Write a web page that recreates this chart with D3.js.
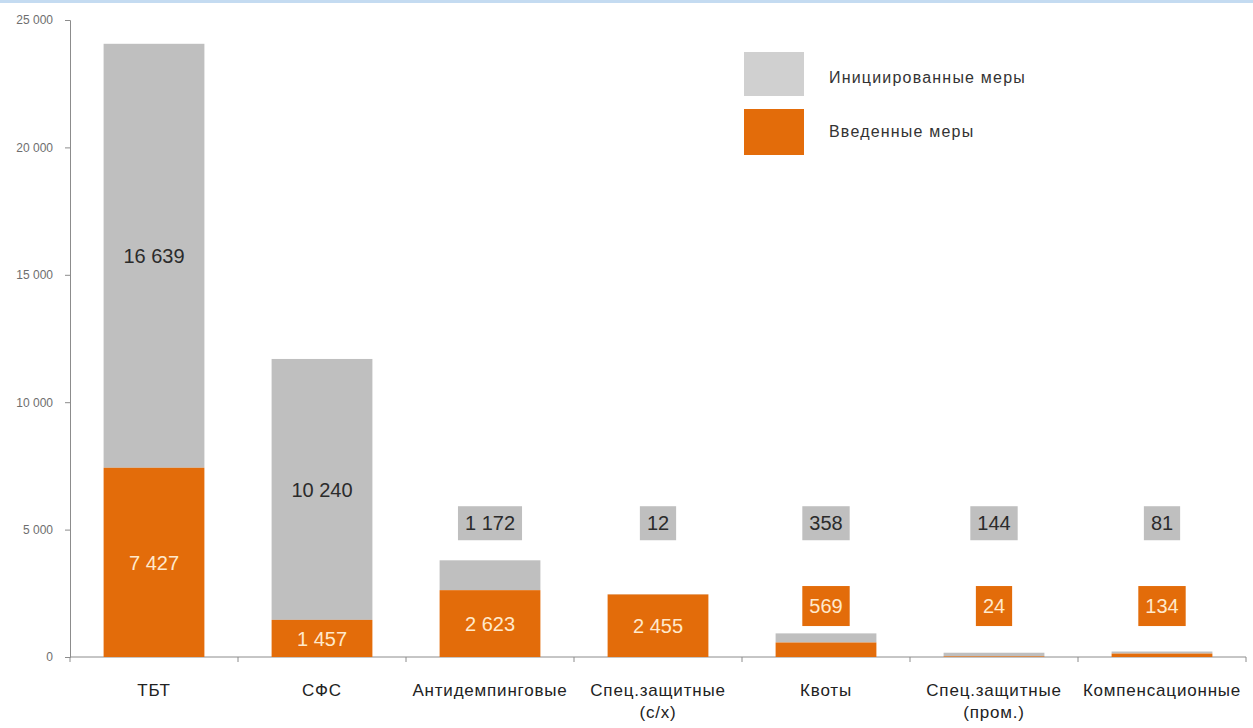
<!DOCTYPE html>
<html>
<head>
<meta charset="utf-8" />
<title>Инициированные и введенные меры</title>
<script src="https://cdn.jsdelivr.net/npm/d3@7"></script>
<style>
  body { margin: 0; background: #fff; }
  svg text { font-family: "Liberation Sans", Arial, sans-serif; }
</style>
</head>
<body>
<script>
// data
var categories = ["ТБТ", "СФС", "Антидемпинговые", "Спец.защитные\n(с/х)", "Квоты", "Спец.защитные\n(пром.)", "Компенсационные"];
var introduced = [7427, 1457, 2623, 2455, 569, 24, 134];   // Введенные меры
var initiated = [16639, 10240, 1172, 12, 358, 144, 81];    // Инициированные меры
var yTicks = [0, 5000, 10000, 15000, 20000, 25000];
var legendLabels = ["Инициированные меры", "Введенные меры"];

var grey = "#bfbfbf", orange = "#e36c0a";

var W = 1253, H = 728;
var margin = {top: 20, right: 7, bottom: 71, left: 70},
    width = W - margin.left - margin.right,
    height = H - margin.top - margin.bottom;

var ru = d3.formatLocale({decimal: ",", thousands: " ", grouping: [3], currency: ["", ""]});
var fmt = ru.format(",");

var svg = d3.select("body").append("svg")
    .attr("width", W)
    .attr("height", H);

// thin blue frame line on top
svg.append("rect").attr("x", 0).attr("y", 0).attr("width", W).attr("height", 3).attr("fill", "#c4dbf1");

var g = svg.append("g")
    .attr("transform", "translate(" + margin.left + "," + margin.top + ")");

var x = d3.scaleBand()
    .domain(categories)
    .range([0, width])
    .paddingInner(0.4)
    .paddingOuter(0.2);

var y = d3.scaleLinear()
    .domain([0, 25000])
    .range([height, 0]);

// y axis
var yAxis = g.append("g")
    .call(d3.axisLeft(y).tickValues(yTicks).tickFormat(fmt).tickSize(5).tickPadding(12));
yAxis.select(".domain").attr("stroke", "#8c8c8c");
yAxis.selectAll(".tick line").attr("stroke", "#8c8c8c");
yAxis.selectAll("text").attr("font-size", 12).attr("fill", "#6e6e6e").attr("font-family", "Liberation Sans, Arial, sans-serif");

// x axis line + ticks between categories
g.append("line")
    .attr("x1", 0).attr("x2", width)
    .attr("y1", height).attr("y2", height)
    .attr("stroke", "#8c8c8c");
var step = x.step();
var edges = categories.map(function(c) { return x(c) - (step - x.bandwidth()) / 2; });
edges.push(width);
g.selectAll(".xtick")
  .data(edges)
  .enter().append("line")
    .attr("x1", function(d) { return d; }).attr("x2", function(d) { return d; })
    .attr("y1", height).attr("y2", height + 5)
    .attr("stroke", "#8c8c8c");

// category labels
var cat = g.selectAll(".cat")
  .data(categories)
  .enter().append("text")
    .attr("x", function(d) { return x(d) + x.bandwidth() / 2; })
    .attr("y", height + 39)
    .attr("text-anchor", "middle")
    .attr("font-size", 17)
    .attr("letter-spacing", 0.8)
    .attr("fill", "#222");
cat.each(function(d) {
  var lines = d.split("\n");
  var t = d3.select(this);
  lines.forEach(function(l, i) {
    t.append("tspan").attr("x", t.attr("x")).attr("dy", i ? 22 : 0).text(l);
  });
});

var rows = categories.map(function(c, i) {
  return {cat: c, intro: introduced[i], init: initiated[i]};
});

// bars: introduced (orange) at bottom, initiated (grey) on top
g.selectAll(".barInit")
  .data(rows)
  .enter().append("rect")
    .attr("x", function(d) { return x(d.cat); })
    .attr("width", x.bandwidth())
    .attr("y", function(d) { return y(d.intro + d.init); })
    .attr("height", function(d) { return y(d.intro) - y(d.intro + d.init); })
    .attr("fill", grey);

g.selectAll(".barIntro")
  .data(rows)
  .enter().append("rect")
    .attr("x", function(d) { return x(d.cat); })
    .attr("width", x.bandwidth())
    .attr("y", function(d) { return y(d.intro); })
    .attr("height", function(d) { return height - y(d.intro); })
    .attr("fill", orange);

// value labels: inside the segment when it is tall enough, otherwise in a box above
function label(d, val, y0, y1, fill, txtColor, boxY, boxH) {
  var cx = x(d.cat) + x.bandwidth() / 2;
  var inside = (y(y0) - y(y1)) >= 35;
  var cy = inside ? (y(y0) + y(y1)) / 2 : y(boxY);
  var grp = g.append("g");
  var rect = grp.append("rect").attr("fill", fill);
  var t = grp.append("text")
      .attr("x", cx).attr("y", cy)
      .attr("dy", "0.36em")
      .attr("text-anchor", "middle")
      .attr("font-size", 20)
      .attr("fill", txtColor)
      .text(fmt(val));
  if (!inside) {
    var bb = t.node().getBBox();
    rect.attr("x", bb.x - 7).attr("width", bb.width + 14)
        .attr("y", cy - boxH / 2).attr("height", boxH);
  } else {
    rect.remove();
  }
}
rows.forEach(function(d) {
  label(d, d.init, d.intro, d.intro + d.init, grey, "#2b2b2b", 5250, 34);
  label(d, d.intro, 0, d.intro, orange, "#ffe9cc", 2000, 40);
});

// legend
var legend = svg.append("g");
[grey, orange].forEach(function(c, i) {
  legend.append("rect")
    .attr("x", 744).attr("y", i ? 109 : 52)
    .attr("width", 60).attr("height", i ? 46 : 44)
    .attr("fill", i ? orange : "#d0d0d0");
  legend.append("text")
    .attr("x", 829).attr("y", i ? 131 : 77)
    .attr("dy", "0.35em")
    .attr("font-size", 16)
    .attr("letter-spacing", 1.2)
    .attr("fill", "#333")
    .text(legendLabels[i]);
});
</script>
</body>
</html>
